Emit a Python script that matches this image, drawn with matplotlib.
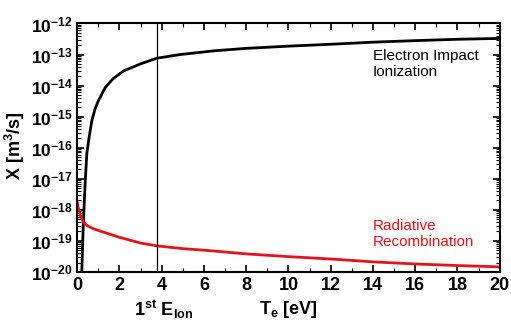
import matplotlib
matplotlib.use('Agg')
import matplotlib.pyplot as plt
import numpy as np
from matplotlib.ticker import FixedLocator, MultipleLocator, NullFormatter

plt.rcParams['font.family'] = ['Liberation Sans', 'DejaVu Sans']
plt.rcParams['mathtext.default'] = 'regular'

# Electron impact ionization rate coefficient
te_ion = [0.22, 0.26, 0.30, 0.38, 0.46, 0.58, 0.70, 0.85, 1.0, 1.33, 1.7, 2.19,
          3.0, 3.77, 4.88, 6.5, 8, 10, 12, 14, 16, 18, 20]
k_ion = [1.0e-20, 7.9e-20, 5.0e-19, 7.9e-18, 6.8e-17, 2.5e-16, 7.6e-16, 1.8e-15,
         3.2e-15, 8.7e-15, 1.66e-14, 2.95e-14, 5.0e-14, 7.6e-14, 1.0e-13, 1.32e-13,
         1.58e-13, 1.86e-13, 2.14e-13, 2.5e-13, 2.8e-13, 3.1e-13, 3.3e-13]

# Radiative recombination rate coefficient
te_rec = [0, 0.05, 0.1, 0.2, 0.3, 0.5, 0.8, 1.25, 2.0, 3.0, 3.77, 5, 6, 8, 10,
          12, 14, 16, 18, 20]
k_rec = [1.8e-18, 1.2e-18, 8.5e-19, 5.5e-19, 4.0e-19, 3.0e-19, 2.4e-19, 1.9e-19,
         1.3e-19, 8.5e-20, 6.9e-20, 5.6e-20, 5.0e-20, 3.8e-20, 3.1e-20, 2.6e-20,
         2.1e-20, 1.8e-20, 1.6e-20, 1.45e-20]

first_e_ion = 3.77  # first ionization energy [eV]
decades = list(range(-20, -11))

fig = plt.figure(figsize=(5.11, 3.26), dpi=100)
ax = fig.add_axes([0.151, 0.166, 0.827, 0.762])

ax.plot(te_ion, k_ion, color='black', lw=2.0)
ax.plot(te_rec, k_rec, color='#e3141e', lw=2.0)
ax.axvline(first_e_ion, color='black', lw=0.9)

ax.set_yscale('log')
ax.set_xlim(0, 20)
ax.set_ylim(1e-20, 1e-12)

ax.xaxis.set_major_locator(MultipleLocator(2))
ax.xaxis.set_minor_locator(MultipleLocator(1))
major = [10.0 ** d for d in decades]
minor = [m * 10.0 ** d for d in decades[:-1] for m in range(2, 10)]
ax.yaxis.set_major_locator(FixedLocator(major))
ax.yaxis.set_minor_locator(FixedLocator(minor))
ax.set_yticklabels(['$10^{%d}$' % d for d in decades])
ax.yaxis.set_minor_formatter(NullFormatter())

ax.tick_params(which='both', direction='in', top=True, right=True)
ax.tick_params(which='major', length=5, width=1.2)
ax.tick_params(which='minor', length=3, width=0.8)
ax.tick_params(axis='x', labelsize=13, pad=4)
ax.tick_params(axis='y', labelsize=12.5, pad=3)
for lab in ax.get_xticklabels() + ax.get_yticklabels():
    lab.set_fontweight('bold')

for s in ax.spines.values():
    s.set_linewidth(1.5)

fig.text(0.03, 0.552, 'X [m$^3$/s]', rotation=90, ha='center', va='center',
         fontsize=13, fontweight='bold')
fig.text(0.565, 0.05, 'T$_e$ [eV]', ha='center', va='center',
         fontsize=13, fontweight='bold')
fig.text(0.32, 0.05, '1$^{st}$ E$_{Ion}$', ha='center', va='center',
         fontsize=13, fontweight='bold')

ax.text(14.0, 1.5e-13, 'Electron Impact\nIonization', fontsize=11,
        va='top', ha='left', linespacing=1.2)
ax.text(14.0, 5e-19, 'Radiative\nRecombination', fontsize=11,
        va='top', ha='left', linespacing=1.2, color='#e3141e')

fig.savefig('out.png', dpi=100)
